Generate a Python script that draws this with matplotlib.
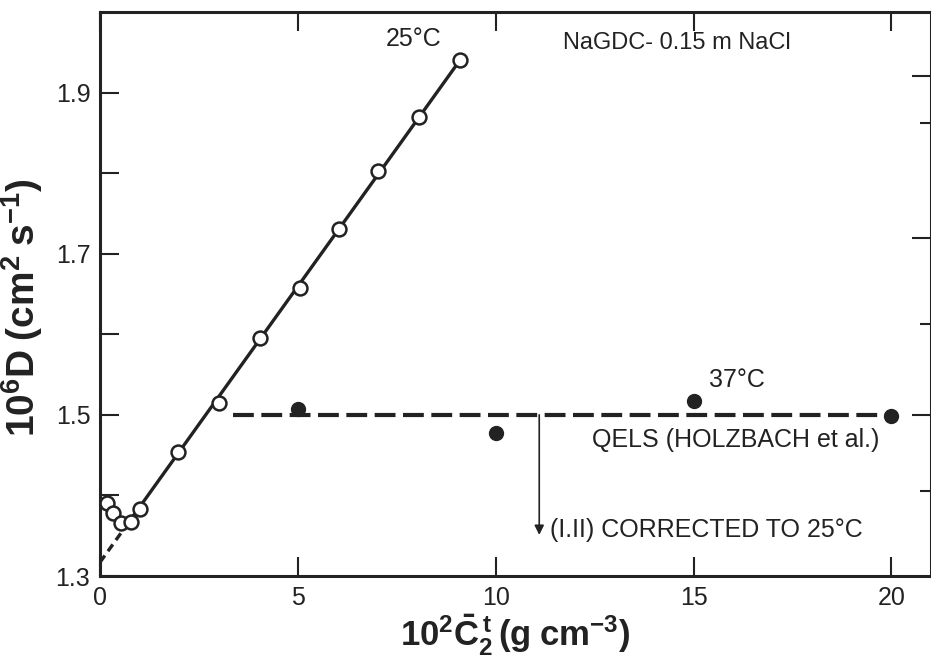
import matplotlib.pyplot as plt
import numpy as np

plt.rcParams['font.family'] = ['Liberation Sans', 'DejaVu Sans']
plt.rcParams['mathtext.fontset'] = 'custom'
plt.rcParams['mathtext.rm'] = 'Liberation Sans'
plt.rcParams['mathtext.bf'] = 'Liberation Sans:bold'
plt.rcParams['mathtext.it'] = 'Liberation Sans:italic'

# 25 C, open circles (NaGDC - 0.15 m NaCl)
conc_25 = [0.18, 0.33, 0.53, 0.79, 1.02, 1.98, 3.02, 4.04, 5.05, 6.04, 7.03, 8.05, 9.09]
diff_25 = [1.390, 1.378, 1.366, 1.367, 1.383, 1.454, 1.515, 1.595, 1.657, 1.731, 1.803, 1.870, 1.940]

# 37 C, QELS (Holzbach et al.), filled circles
conc_37 = [5, 10, 15, 20]
diff_37 = [1.507, 1.478, 1.517, 1.498]

# fitted line for 25 C
slope, intercept = 0.0685, 1.317
x_solid = np.array([0.72, 9.09])
x_dash = np.array([0.0, 0.72])

qels_level = 1.50
qels_start = 3.35
arrow_x = 11.1
arrow_end = 1.351

# ticks seen on the right edge (other scale, no labels)
right_major = [1.92, 1.72, 1.50]
right_minor = [1.862, 1.613, 1.405]

ink = '#222222'
px = 1/100
fig = plt.figure(figsize=(931*px, 663*px), dpi=100)
ax = fig.add_axes([0.1074, 0.1312, 0.8926, 0.8508])

ax.plot(x_solid, slope*x_solid + intercept, color=ink, lw=2.4, zorder=2)
ax.plot(x_dash, slope*x_dash + intercept, color=ink, lw=2.4, ls=(0, (2.5, 1.6)), zorder=2)
ax.plot(conc_25, diff_25, 'o', mfc='white', mec=ink, mew=1.8, ms=10, zorder=3)

ax.plot([qels_start, 20], [qels_level, qels_level], color=ink, lw=3,
        ls=(0, (5, 1.8)), zorder=2)
ax.plot(conc_37, diff_37, 'o', color=ink, ms=10, zorder=3)

ax.annotate('', xy=(arrow_x, arrow_end), xytext=(arrow_x, qels_level),
            arrowprops=dict(arrowstyle='-|>', color=ink, lw=1.2,
                            mutation_scale=14, shrinkA=0, shrinkB=0))

ax.text(11.37, 1.357, '(I.II) CORRECTED TO 25°C', fontsize=18, va='center', ha='left', color=ink)
ax.text(12.44, 1.469, 'QELS (HOLZBACH et al.)', fontsize=18, va='center', ha='left', color=ink)
ax.text(16.1, 1.543, '37°C', fontsize=18, va='center', ha='center', color=ink)
ax.text(8.63, 1.966, '25°C', fontsize=18, va='center', ha='right', color=ink)
ax.text(11.7, 1.961, 'NaGDC- 0.15 m NaCl', fontsize=17, va='center', ha='left', color=ink)

ax.set_xlim(0, 21.0)
ax.set_ylim(1.3, 2.0)
ax.set_xticks([0, 5, 10, 15, 20])
ax.set_yticks([1.3, 1.4, 1.5, 1.6, 1.7, 1.8, 1.9])
ax.set_yticklabels(['1.3', '', '1.5', '', '1.7', '', '1.9'])
ax.tick_params(direction='in', length=14, width=1.5, top=True, right=False,
               labelsize=18, colors=ink, pad=7)
for s in ax.spines.values():
    s.set_linewidth(2.2)
    s.set_color(ink)

rax = ax.twinx()
rax.set_ylim(1.3, 2.0)
rax.set_yticks(right_major)
rax.set_yticks(right_minor, minor=True)
rax.tick_params(which='major', direction='in', length=14, width=1.5, labelright=False, colors=ink)
rax.tick_params(which='minor', direction='in', length=8, width=1.5, labelright=False, colors=ink)
for s in rax.spines.values():
    s.set_visible(False)

ax.set_xlabel(r'$\mathbf{10^{2}\bar{C}_{2}^{\,t}\,(g\;cm^{-3})}$', fontsize=25, color=ink, labelpad=2)
ax.set_ylabel(r'$\mathbf{10^{6}D\;(cm^{2}\;s^{-1})}$', fontsize=28, color=ink)
ax.yaxis.set_label_coords(-0.066, 0.475)

fig.savefig('out.png', dpi=100)
